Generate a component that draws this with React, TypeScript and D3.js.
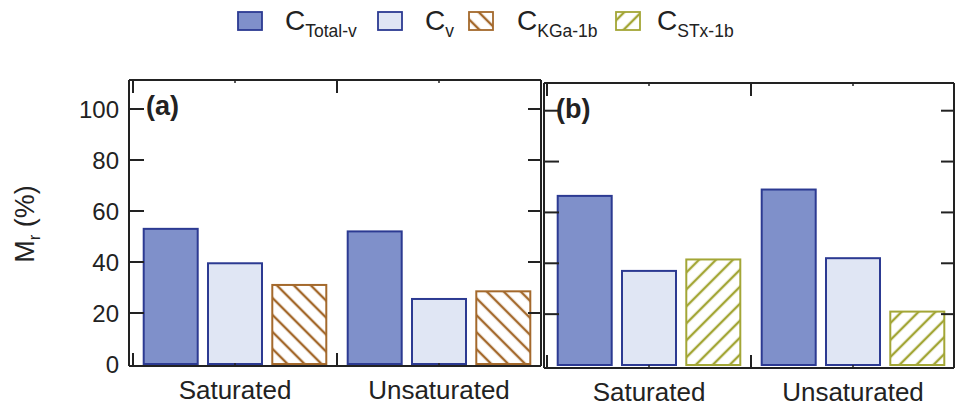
import React from "react";
import * as d3 from "d3";

const categories = ["Saturated", "Unsaturated"];
const yTicks = [0, 20, 40, 60, 80, 100];

const totalA = [53, 52];
const cvA = [39.5, 25.5];
const kga = [31, 28.5];

const totalB = [66.5, 69];
const cvB = [37, 42];
const stx = [41.5, 21];

const C_TOTAL_FILL = "#7f90ca";
const C_BLUE_STROKE = "#2c3a92";
const C_CV_FILL = "#e0e6f4";
const C_BROWN = "#a4692c";
const C_OLIVE = "#a3a636";
const AX = "#222";
const FONT = "'Liberation Sans', Arial, Helvetica, sans-serif";

type Series = { key: string; values: number[]; fill: string; stroke: string };

function Panel(props: {
  x0: number; x1: number; axisX: number; rightX: number;
  top: number; bottom: number; y0: number; y100: number;
  series: Series[]; label: string; labelX: number; labelY: number;
  showYLabels: boolean; catLabelY: number;
}) {
  const { x0, x1, axisX, rightX, top, bottom, y0, y100, series, label, labelX, labelY, showYLabels, catLabelY } = props;
  const y = d3.scaleLinear().domain([0, 100]).range([y0, y100]);
  const xCat = d3.scaleBand<string>().domain(categories).range([x0, x1]).padding(0);
  const xSer = d3.scaleBand<string>().domain(series.map(s => s.key)).range([0, xCat.bandwidth()]).paddingInner(0.16).paddingOuter(0.1665);
  const boundaries = [x0, ...categories.map(c => (xCat(c) as number) + xCat.bandwidth())];
  return (
    <g>
      {categories.map((c, ci) => (
        <g key={c}>
          {series.map(s => (
            <rect key={s.key}
              x={(xCat(c) as number) + (xSer(s.key) as number)}
              y={y(s.values[ci])}
              width={xSer.bandwidth()}
              height={y(0) - y(s.values[ci])}
              fill={s.fill} stroke={s.stroke} strokeWidth={2} />
          ))}
        </g>
      ))}
      <line x1={axisX} x2={rightX} y1={top} y2={top} stroke={AX} strokeWidth={2} />
      <line x1={axisX} x2={rightX} y1={bottom} y2={bottom} stroke={AX} strokeWidth={2} />
      <line x1={axisX} x2={axisX} y1={top} y2={bottom} stroke={AX} strokeWidth={2} />
      <line x1={rightX} x2={rightX} y1={top} y2={bottom} stroke={AX} strokeWidth={2} />
      {yTicks.map(t => (
        <g key={t}>
          {t > 0 && <line x1={axisX} x2={axisX + 15} y1={y(t)} y2={y(t)} stroke={AX} strokeWidth={2} />}
          {t > 0 && <line x1={rightX} x2={rightX - 13} y1={y(t)} y2={y(t)} stroke={AX} strokeWidth={2} />}
          {showYLabels && (
            <text x={axisX - 10} y={y(t)} dy="0.36em" textAnchor="end" fontSize={24} fill={AX} fontFamily={FONT}>{t}</text>
          )}
        </g>
      ))}
      {boundaries.map((bx, i) => (
        <g key={i}>
          <line x1={Math.min(bx, rightX)} x2={Math.min(bx, rightX)} y1={bottom} y2={bottom - 13} stroke={AX} strokeWidth={2} />
          <line x1={Math.min(bx, rightX)} x2={Math.min(bx, rightX)} y1={top} y2={top + 13} stroke={AX} strokeWidth={2} />
        </g>
      ))}
      {categories.map(c => {
        const cx = (xCat(c) as number) + xCat.bandwidth() / 2;
        return (
          <g key={c}>
            <line x1={cx} x2={cx} y1={bottom} y2={bottom - 3} stroke={AX} strokeWidth={1.5} />
            <line x1={cx} x2={cx} y1={top} y2={top + 3} stroke={AX} strokeWidth={1.5} />
            <text x={cx} y={catLabelY} textAnchor="middle" fontSize={26} fill={AX} fontFamily={FONT}>{c}</text>
          </g>
        );
      })}
      <text x={labelX} y={labelY} fontSize={27} fontWeight="bold" fill={AX} fontFamily={FONT}>{label}</text>
    </g>
  );
}

function LegendItem(props: { x: number; textX: number; fill: string; stroke: string; sub: string }) {
  const { x, textX, fill, stroke, sub } = props;
  return (
    <g>
      <rect x={x} y={12} width={24} height={18} fill={fill} stroke={stroke} strokeWidth={1.8} />
      <text x={textX} y={29.5} fontSize={28} fill={AX} fontFamily={FONT}>
        C<tspan fontSize={17.5} dy={7}>{sub}</tspan>
      </text>
    </g>
  );
}

export default function App() {
  const seriesA: Series[] = [
    { key: "Total-v", values: totalA, fill: C_TOTAL_FILL, stroke: C_BLUE_STROKE },
    { key: "v", values: cvA, fill: C_CV_FILL, stroke: C_BLUE_STROKE },
    { key: "KGa-1b", values: kga, fill: "url(#hatchBrown)", stroke: C_BROWN },
  ];
  const seriesB: Series[] = [
    { key: "Total-v", values: totalB, fill: C_TOTAL_FILL, stroke: C_BLUE_STROKE },
    { key: "v", values: cvB, fill: C_CV_FILL, stroke: C_BLUE_STROKE },
    { key: "STx-1b", values: stx, fill: "url(#hatchOlive)", stroke: C_OLIVE },
  ];
  return (
    <svg width={955} height={410} style={{ position: "absolute", left: 0, top: 0, background: "#fff" }}>
      <defs>
        <pattern id="hatchBrown" patternUnits="userSpaceOnUse" width={12} height={12} patternTransform="rotate(-45)">
          <rect width={12} height={12} fill="#fff" />
          <line x1={6} x2={6} y1={0} y2={12} stroke={C_BROWN} strokeWidth={2.4} />
        </pattern>
        <pattern id="hatchOlive" patternUnits="userSpaceOnUse" width={12} height={12} patternTransform="rotate(45)">
          <rect width={12} height={12} fill="#fff" />
          <line x1={6} x2={6} y1={0} y2={12} stroke={C_OLIVE} strokeWidth={2.4} />
        </pattern>
      </defs>
      <rect width={955} height={410} fill="#fff" />
      <LegendItem x={238} textX={285} fill={C_TOTAL_FILL} stroke={C_BLUE_STROKE} sub="Total-v" />
      <LegendItem x={378} textX={425} fill={C_CV_FILL} stroke={C_BLUE_STROKE} sub="v" />
      <LegendItem x={469} textX={517} fill="url(#hatchBrown)" stroke={C_BROWN} sub="KGa-1b" />
      <LegendItem x={616} textX={657} fill="url(#hatchOlive)" stroke={C_OLIVE} sub="STx-1b" />

      <Panel x0={133} x1={541} axisX={129} rightX={541} top={80} bottom={366}
        y0={364} y100={109} series={seriesA} label="(a)" labelX={146} labelY={115}
        showYLabels={true} catLabelY={399} />
      <Panel x0={547} x1={955} axisX={544} rightX={954} top={83} bottom={368}
        y0={365} y100={110.7} series={seriesB} label="(b)" labelX={556} labelY={118}
        showYLabels={false} catLabelY={401} />

      <text transform="translate(34,224) rotate(-90)" textAnchor="middle" fontSize={27} fill={AX} fontFamily={FONT}>
        M<tspan fontSize={17} dy={6}>r</tspan><tspan dy={-6}> (%)</tspan>
      </text>
    </svg>
  );
}
